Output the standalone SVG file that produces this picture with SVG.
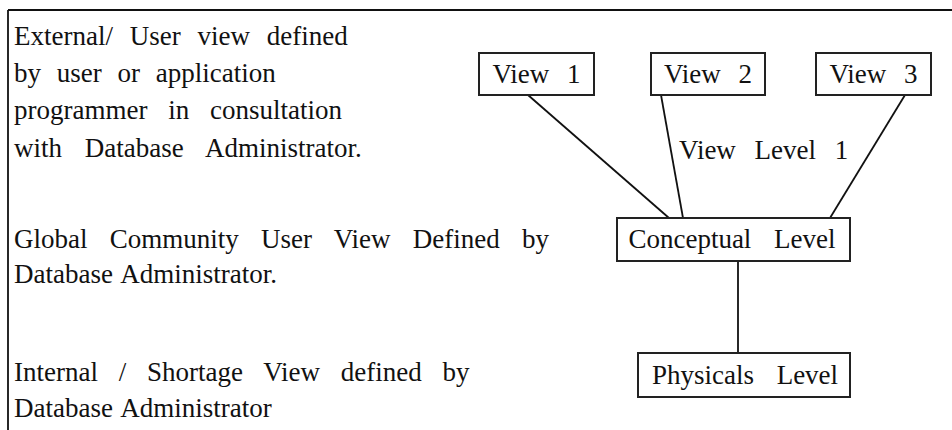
<svg xmlns="http://www.w3.org/2000/svg" width="952" height="430" viewBox="0 0 952 430">
<style>
text{font-family:"Liberation Serif","Times New Roman",serif;font-size:27px;fill:#111;word-spacing:11px}
.box{fill:#fff;stroke:#222;stroke-width:2}
.ln{stroke:#111;stroke-width:1.8;fill:none}
.mid{text-anchor:middle}
</style>
<rect width="952" height="430" fill="#fff"/>
<g id="frame">
<line class="ln" x1="8" y1="10" x2="952" y2="10" stroke-width="2"/>
<line class="ln" x1="8" y1="10" x2="8" y2="430" stroke-width="2.5"/>
</g>
<g id="descriptions">
<text x="14" y="45" style="word-spacing:10px">External/ User view defined</text>
<text x="14" y="82" style="word-spacing:9px">by user or application</text>
<text x="14" y="119" style="word-spacing:14px">programmer in consultation</text>
<text x="14" y="157" style="word-spacing:16px">with Database Administrator.</text>
<text x="14" y="248" style="word-spacing:15.5px">Global Community User View Defined by</text>
<text x="14" y="283" style="word-spacing:2px">Database Administrator.</text>
<text x="14" y="381" style="word-spacing:14px">Internal / Shortage View defined by</text>
<text x="14" y="417" style="word-spacing:2px">Database Administrator</text>
</g>
<g id="connectors">
<line class="ln" x1="528" y1="95" x2="669" y2="218"/>
<line class="ln" x1="661" y1="95" x2="683" y2="218"/>
<line class="ln" x1="905" y1="95" x2="830" y2="218"/>
<line class="ln" x1="738" y1="261" x2="738" y2="353" stroke-width="3"/>
<text x="679" y="159" style="word-spacing:12px">View Level 1</text>
</g>
<g id="view1"><rect class="box" x="479" y="53" width="115" height="42"/><text class="mid" x="536.5" y="83">View 1</text></g>
<g id="view2"><rect class="box" x="651" y="53" width="114" height="42"/><text class="mid" x="708" y="83">View 2</text></g>
<g id="view3"><rect class="box" x="816" y="53" width="115" height="42"/><text class="mid" x="873.5" y="83">View 3</text></g>
<g id="conceptual"><rect class="box" x="617" y="218" width="233" height="43"/><text class="mid" x="732" y="248" style="word-spacing:16px">Conceptual Level</text></g>
<g id="physical"><rect class="box" x="638" y="353" width="212" height="44"/><text class="mid" x="745" y="384" style="word-spacing:16px">Physicals Level</text></g>
</svg>
